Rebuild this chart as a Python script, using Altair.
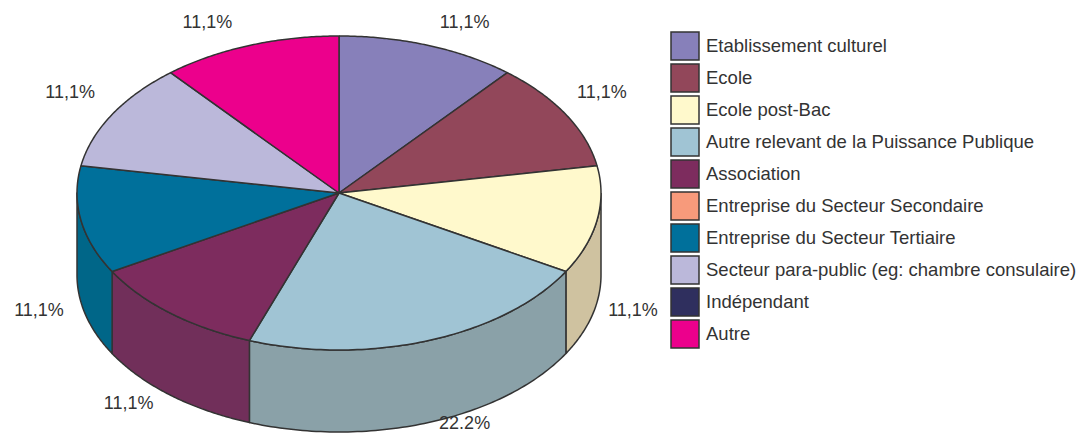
import altair as alt
import pandas as pd

categories = [
    "Etablissement culturel",
    "Ecole",
    "Ecole post-Bac",
    "Autre relevant de la Puissance Publique",
    "Association",
    "Entreprise du Secteur Secondaire",
    "Entreprise du Secteur Tertiaire",
    "Secteur para-public (eg: chambre consulaire)",
    "Indépendant",
    "Autre",
]
counts = [1, 1, 1, 2, 1, 0, 1, 1, 0, 1]
pct_labels = ["11,1%", "11,1%", "11,1%", "22.2%", "11,1%", "", "11,1%", "11,1%", "", "11,1%"]
top_colors = ["#8780BA", "#92475A", "#FFF9CC", "#A0C4D4", "#7D2C5E",
              "#F79A7B", "#00709B", "#BBB8DA", "#2F2F5E", "#EC008C"]
side_colors = ["#6E689A", "#773A4A", "#CFC2A0", "#8AA1A8", "#712F5A",
               "#C97C63", "#006688", "#9896B2", "#26264C", "#C00072"]

# geometry (pixels)
CX, CY, RX, RY, DEPTH = 339, 193, 262, 157, 82
N = 80
W, H = 1074, 425
OUT = "#333333"

df = pd.DataFrame({
    "cat": categories,
    "value": counts,
    "label": pct_labels,
    "side": side_colors,
    "order": list(range(len(categories))),
})

xenc = alt.X("px:Q", scale=alt.Scale(domain=[8, 8 + W], nice=False, zero=False), axis=None)
yenc = alt.Y("py:Q", scale=alt.Scale(domain=[8, 8 + H], nice=False, zero=False, reverse=True), axis=None)

base = (
    alt.Chart(df)
    .transform_joinaggregate(total="sum(value)")
    .transform_window(cum="sum(value)", frame=[None, 0], sort=[alt.SortField("order")])
    .transform_filter("datum.value > 0")
    .transform_calculate(
        a1="2*PI*(datum.cum - datum.value)/datum.total",
        a2="2*PI*datum.cum/datum.total",
    )
)

# front walls of the cylinder
walls = (
    base.transform_calculate(b1="max(datum.a1, PI/2)", b2="min(datum.a2, 3*PI/2)")
    .transform_filter("datum.b2 > datum.b1")
    .transform_calculate(seq=f"sequence(0, {2 * N + 3})")
    .transform_flatten(["seq"])
    .transform_calculate(
        t=(f"datum.seq <= {N} ? datum.b1 + (datum.b2 - datum.b1) * datum.seq / {N} : "
           f"(datum.seq <= {2 * N + 1} ? datum.b2 - (datum.b2 - datum.b1) * (datum.seq - {N + 1}) / {N} : datum.b1)"),
        bottom=f"(datum.seq > {N} && datum.seq <= {2 * N + 1}) ? 1 : 0",
    )
    .transform_calculate(
        px=f"{CX} + {RX} * sin(datum.t)",
        py=f"{CY} - {RY} * cos(datum.t) + datum.bottom * {DEPTH}",
    )
    .mark_line(filled=True, stroke=OUT, strokeWidth=1.5, strokeJoin="round")
    .encode(
        x=xenc, y=yenc,
        fill=alt.Fill("side:N", scale=None),
        detail="cat:N",
        order=alt.Order("seq:Q"),
    )
)

# top faces
tops = (
    base.transform_calculate(seq=f"sequence(0, {N + 3})")
    .transform_flatten(["seq"])
    .transform_calculate(
        t=f"datum.seq == {N + 2} ? datum.a1 : datum.a1 + (datum.a2 - datum.a1) * min(datum.seq, {N}) / {N}",
    )
    .transform_calculate(
        px=f"datum.seq == {N + 1} ? {CX} : {CX} + {RX} * sin(datum.t)",
        py=f"datum.seq == {N + 1} ? {CY} : {CY} - {RY} * cos(datum.t)",
    )
    .mark_line(filled=True, stroke=OUT, strokeWidth=1.5, strokeJoin="round")
    .encode(
        x=xenc, y=yenc,
        fill=alt.Fill(
            "cat:N",
            scale=alt.Scale(domain=categories, range=top_colors),
            legend=alt.Legend(
                title=None, orient="none", legendX=662, legendY=23,
                symbolType="square", symbolSize=784, symbolStrokeColor=OUT,
                symbolStrokeWidth=1.5, symbolOpacity=1,
                labelFontSize=18.5, labelFont="Liberation Sans", labelColor="#333333",
                labelOffset=6, rowPadding=-3.7, padding=0, labelLimit=600,
            ),
        ),
        detail="cat:N",
        order=alt.Order("seq:Q"),
    )
)

labels = (
    base.transform_filter("datum.label != ''")
    .transform_calculate(mid="(datum.a1 + datum.a2) / 2")
    .transform_calculate(
        px=f"{CX} + {RX} * sin(datum.mid) + (sin(datum.mid) >= 0 ? 36 : -42)",
        py=(f"min({CY} - {RY} * cos(datum.mid) + (cos(datum.mid) < 0 ? {DEPTH} : 0)"
            f" + (cos(datum.mid) > 0 ? -22 : 9), 424)"),
    )
    .mark_text(font="Liberation Sans", fontSize=18, color="#333333", align="center", baseline="middle")
    .encode(x=xenc, y=yenc, text="label:N")
)

chart = (
    alt.layer(walls, tops, labels)
    .resolve_scale(fill="independent")
    .resolve_legend(fill="independent")
    .properties(width=W, height=H, padding=0, autosize=alt.AutoSizeParams(type="none"))
    .configure_view(stroke=None)
)

chart.save("out.html", embed_options={"renderer": "svg", "actions": False})
